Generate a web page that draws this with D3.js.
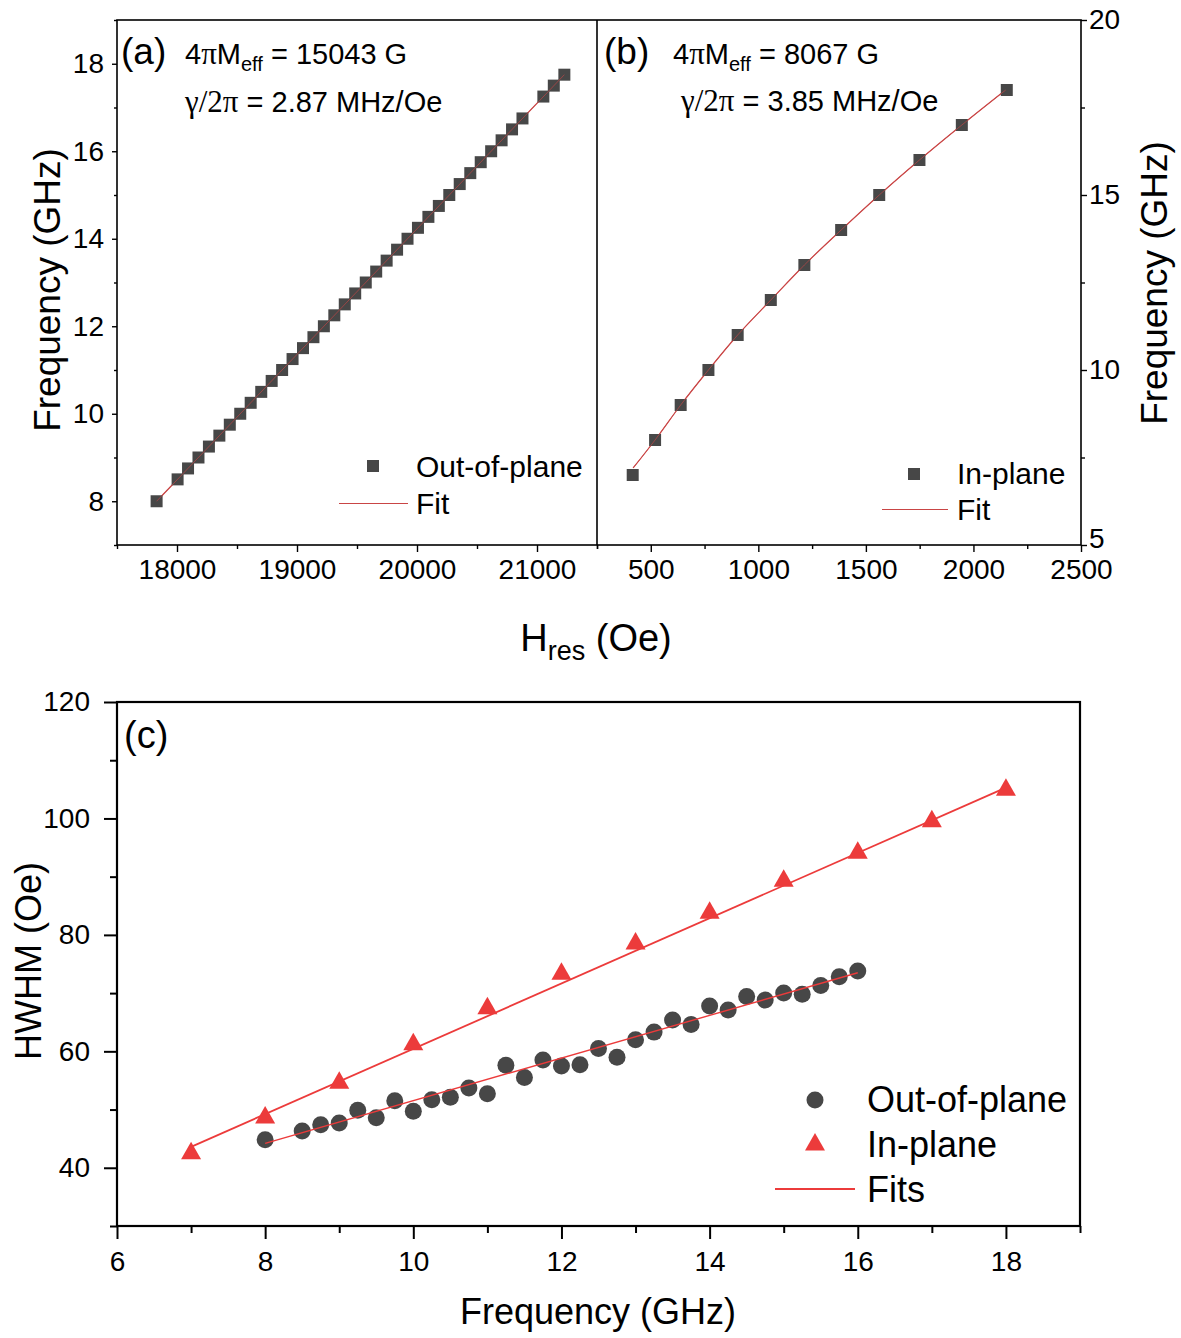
<!DOCTYPE html>
<html><head><meta charset="utf-8">
<script src="https://cdn.jsdelivr.net/npm/d3@7"></script>
<style>body{margin:0;background:#fff}</style>
</head><body>
<svg id="chart" width="1181" height="1338"></svg>
<script>
// ---------- Data: panel (a) out-of-plane ----------
const oopFreq = [8, 8.5, 8.75, 9, 9.25, 9.5, 9.75, 10, 10.25, 10.5, 10.75, 11, 11.25, 11.5, 11.75, 12, 12.25, 12.5, 12.75, 13, 13.25, 13.5, 13.75, 14, 14.25, 14.5, 14.75, 15, 15.25, 15.5, 15.75, 16, 16.25, 16.5, 16.75, 17.25, 17.5, 17.75];
const oopHres = [17830, 18005, 18092, 18179, 18266, 18353, 18440, 18527, 18614, 18702, 18789, 18876, 18963, 19050, 19137, 19224, 19311, 19398, 19485, 19573, 19660, 19747, 19834, 19921, 20008, 20095, 20182, 20269, 20356, 20444, 20531, 20618, 20705, 20792, 20879, 21053, 21140, 21228];
const oopFitH = [17830, 21228];
const oopFitF = [8.0, 17.75];
// ---------- Data: panel (b) in-plane ----------
const ipFreq = [7, 8, 9, 10, 11, 12, 13, 14, 15, 16, 17, 18];
const ipHres = [416, 520, 639, 768, 904, 1058, 1214, 1385, 1562, 1749, 1946, 2155];
const ipFitH = [418, 520, 639, 768, 904, 1058, 1214, 1385, 1562, 1749, 1946, 2150];
const ipFitF = [7.2, 8.0, 9.0, 10.0, 11.0, 12.0, 13.0, 14.0, 15.0, 16.0, 17.0, 18.0];
// ---------- Data: panel (c) linewidth ----------
const hwOopFreq = [8, 8.5, 8.75, 9, 9.25, 9.5, 9.75, 10, 10.25, 10.5, 10.75, 11, 11.25, 11.5, 11.75, 12, 12.25, 12.5, 12.75, 13, 13.25, 13.5, 13.75, 14, 14.25, 14.5, 14.75, 15, 15.25, 15.5, 15.75, 16];
const hwOop = [44.8, 46.3, 47.4, 47.7, 49.9, 48.6, 51.5, 49.7, 51.7, 52.1, 53.7, 52.7, 57.6, 55.5, 58.5, 57.5, 57.7, 60.5, 59.0, 62.0, 63.3, 65.4, 64.6, 67.8, 67.1, 69.4, 68.8, 70.0, 69.8, 71.3, 72.8, 73.8];
const hwIpFreq = [7, 8, 9, 10, 11, 12, 13, 14, 15, 16, 17, 18];
const hwIp = [42.6, 48.7, 54.7, 61.3, 67.5, 73.4, 78.6, 83.9, 89.4, 94.2, 99.6, 105.0];
const hwOopFitF = [8, 16];
const hwOopFitV = [44.2, 73.5];
const hwIpFitF = [7, 18];
const hwIpFitV = [43.6, 105.3];
// ---------- Tick values ----------
const aXMajor = [18000, 19000, 20000, 21000], aXMinor = [17500, 18500, 19500, 20500, 21500];
const aYMajor = [8, 10, 12, 14, 16, 18], aYMinor = [7, 9, 11, 13, 15, 17, 19];
const bXMajor = [500, 1000, 1500, 2000, 2500], bXMinor = [250, 750, 1250, 1750, 2250];
const bYMajor = [5, 10, 15, 20], bYMinor = [7.5, 12.5, 17.5];
const cXMajor = [6, 8, 10, 12, 14, 16, 18], cXMinor = [7, 9, 11, 13, 15, 17, 19];
const cYMajor = [40, 60, 80, 100, 120], cYMinor = [30, 50, 70, 90, 110];

const SANS = "'Liberation Sans', Arial, Helvetica, sans-serif";
const SERIF = "'Liberation Serif', 'Times New Roman', serif";
const GRAY = "#474747", RED = "#ec3b3b", FITDARK = "#c94545";

const svg = d3.select("#chart");
svg.append("rect").attr("width", 1181).attr("height", 1338).attr("fill", "#fff");

// geometry
const AB = {left: 117, mid: 597, right: 1081, top: 20, bottom: 545};
const C = {left: 117, right: 1080, top: 702, bottom: 1226};

const xA = d3.scaleLinear().domain([17500, 21500]).range([AB.left, AB.mid]);
const yA = d3.scaleLinear().domain([7, 19]).range([AB.bottom, AB.top]);
const xB = d3.scaleLinear().domain([250, 2500]).range([AB.mid, AB.right]);
const yB = d3.scaleLinear().domain([5, 20]).range([AB.bottom, AB.top]);
const xC = d3.scaleLinear().domain([6, 19]).range([C.left, C.right]);
const yC = d3.scaleLinear().domain([30, 120]).range([C.bottom, C.top]);

function drawAxis(gen, scale, major, minor, tf, pos, majLen, minLen, pad, sw, fs) {
  const gMin = svg.append("g").attr("transform", pos)
    .call(gen(scale).tickValues(minor).tickSize(minLen).tickFormat(""));
  const gMaj = svg.append("g").attr("transform", pos)
    .call(gen(scale).tickValues(major).tickSize(majLen).tickPadding(pad).tickFormat(tf));
  [gMin, gMaj].forEach(g => {
    g.select(".domain").remove();
    g.selectAll("line").attr("stroke", "#000").attr("stroke-width", sw);
    g.selectAll("text").attr("font-family", SANS).attr("font-size", fs).attr("fill", "#000");
  });
  return gMaj;
}
const fmt = d3.format("d");

// ---- Panel (a)/(b) axes ----
drawAxis(d3.axisBottom, xA, aXMajor, aXMinor, fmt, `translate(0,${AB.bottom})`, 7, 4, 7, 1.4, 28);
drawAxis(d3.axisLeft, yA, aYMajor, aYMinor, fmt, `translate(${AB.left},0)`, 5, 3, 8, 1.4, 28);
drawAxis(d3.axisBottom, xB, bXMajor, bXMinor, fmt, `translate(0,${AB.bottom})`, 7, 4, 7, 1.4, 28);
const gBY = drawAxis(d3.axisRight, yB, bYMajor, bYMinor, fmt, `translate(${AB.right},0)`, 6, 4, 2, 1.4, 28);
// lift the bottom "5" label slightly so it does not collide with "2500"
gBY.selectAll(".tick").filter(d => d === 5).select("text").attr("dy", "0.1em");
// frames
svg.append("rect").attr("x", AB.left).attr("y", AB.top).attr("width", AB.right - AB.left).attr("height", AB.bottom - AB.top)
  .attr("fill", "none").attr("stroke", "#000").attr("stroke-width", 1.6);
svg.append("line").attr("x1", AB.mid).attr("x2", AB.mid).attr("y1", AB.top).attr("y2", AB.bottom)
  .attr("stroke", "#000").attr("stroke-width", 1.6);

// ---- Panel (a) marks ----
const gA = svg.append("g");
const fitLineA = d3.line().x(d => xA(d[0])).y(d => yA(d[1]));
gA.append("path").datum(oopFitH.map((h, i) => [h, oopFitF[i]]))
  .attr("d", fitLineA).attr("fill", "none").attr("stroke", FITDARK).attr("stroke-width", 1.2);
const symSq = d3.symbol().type(d3.symbolSquare).size(144);
gA.selectAll(".sqA").data(oopFreq.map((f, i) => [oopHres[i], f])).join("path")
  .attr("d", symSq).attr("transform", d => `translate(${xA(d[0])},${yA(d[1])})`).attr("fill", GRAY);
gA.append("path").datum(oopFitH.map((h, i) => [h, oopFitF[i]]))
  .attr("d", fitLineA).attr("fill", "none").attr("stroke", FITDARK).attr("stroke-width", 0.8).attr("opacity", 0.8);

// ---- Panel (b) marks ----
const gB = svg.append("g");
const fitLineB = d3.line().curve(d3.curveMonotoneX).x(d => xB(d[0])).y(d => yB(d[1]));
gB.append("path").datum(ipFitH.map((h, i) => [h, ipFitF[i]]))
  .attr("d", fitLineB).attr("fill", "none").attr("stroke", FITDARK).attr("stroke-width", 1.2);
gB.selectAll(".sqB").data(ipFreq.map((f, i) => [ipHres[i], f])).join("path")
  .attr("d", symSq).attr("transform", d => `translate(${xB(d[0])},${yB(d[1])})`).attr("fill", GRAY);
gB.append("path").datum(ipFitH.map((h, i) => [h, ipFitF[i]]))
  .attr("d", fitLineB).attr("fill", "none").attr("stroke", FITDARK).attr("stroke-width", 0.8).attr("opacity", 0.8);

// ---- annotations ----
function label(x, y, txt, fs) {
  return svg.append("text").attr("x", x).attr("y", y).attr("font-family", SANS)
    .attr("font-size", fs).attr("fill", "#000").text(txt);
}
label(121, 64, "(a)", 37);
label(604, 64, "(b)", 37);
function meff(x, y, val) {
  const t = svg.append("text").attr("x", x).attr("y", y).attr("font-family", SANS).attr("font-size", 29).attr("fill", "#000");
  t.append("tspan").text("4");
  t.append("tspan").attr("font-family", SERIF).attr("font-size", 31).text("π");
  t.append("tspan").text("M");
  t.append("tspan").attr("font-size", 20).attr("dy", 7).text("eff");
  t.append("tspan").attr("dy", -7).text(" = " + val + " G");
}
function gam(x, y, val) {
  const t = svg.append("text").attr("x", x).attr("y", y).attr("font-family", SANS).attr("font-size", 29).attr("fill", "#000");
  t.append("tspan").attr("font-family", SERIF).attr("font-size", 31).text("γ/2π");
  t.append("tspan").text(" = " + val + " MHz/Oe");
}
meff(185, 64, "15043");
gam(185, 112, "2.87");
meff(673, 64, "8067");
gam(681, 111, "3.85");

// legends (a),(b)
gA.append("path").attr("d", symSq).attr("transform", "translate(373,466)").attr("fill", GRAY);
label(416, 477, "Out-of-plane", 30);
svg.append("line").attr("x1", 339).attr("x2", 408).attr("y1", 503.5).attr("y2", 503.5).attr("stroke", FITDARK).attr("stroke-width", 1.2);
label(416, 514, "Fit", 30);
gB.append("path").attr("d", symSq).attr("transform", "translate(914,474)").attr("fill", GRAY);
label(957, 484, "In-plane", 30);
svg.append("line").attr("x1", 882).attr("x2", 948).attr("y1", 509.5).attr("y2", 509.5).attr("stroke", FITDARK).attr("stroke-width", 1.2);
label(957, 520, "Fit", 30);

// axis titles (a)/(b)
svg.append("text").attr("transform", "translate(60,290) rotate(-90)").attr("text-anchor", "middle")
  .attr("font-family", SANS).attr("font-size", 37).text("Frequency (GHz)");
svg.append("text").attr("transform", "translate(1167,283) rotate(-90)").attr("text-anchor", "middle")
  .attr("font-family", SANS).attr("font-size", 37).text("Frequency (GHz)");
const ht = svg.append("text").attr("x", 596).attr("y", 651).attr("text-anchor", "middle")
  .attr("font-family", SANS).attr("font-size", 38);
ht.append("tspan").text("H");
ht.append("tspan").attr("font-size", 27).attr("dy", 9).text("res");
ht.append("tspan").attr("dy", -9).text(" (Oe)");

// ---- Panel (c) ----
drawAxis(d3.axisBottom, xC, cXMajor, cXMinor, fmt, `translate(0,${C.bottom})`, 13, 7, 12, 2, 28);
drawAxis(d3.axisLeft, yC, cYMajor, cYMinor, fmt, `translate(${C.left},0)`, 13, 7, 14, 2, 28);
svg.append("rect").attr("x", C.left).attr("y", C.top).attr("width", C.right - C.left).attr("height", C.bottom - C.top)
  .attr("fill", "none").attr("stroke", "#000").attr("stroke-width", 2.2);

const gC = svg.append("g");
const lineC = d3.line().x(d => xC(d[0])).y(d => yC(d[1]));
gC.append("path").datum(hwIpFitF.map((f, i) => [f, hwIpFitV[i]])).attr("d", lineC)
  .attr("fill", "none").attr("stroke", RED).attr("stroke-width", 1.8);
gC.selectAll(".cir").data(hwOopFreq.map((f, i) => [f, hwOop[i]])).join("circle")
  .attr("cx", d => xC(d[0])).attr("cy", d => yC(d[1])).attr("r", 8.5).attr("fill", GRAY);
gC.append("path").datum(hwOopFitF.map((f, i) => [f, hwOopFitV[i]])).attr("d", lineC)
  .attr("fill", "none").attr("stroke", RED).attr("stroke-width", 1.4);
const tri = "M0,-11 L10,6.5 L-10,6.5 Z";
gC.selectAll(".tri").data(hwIpFreq.map((f, i) => [f, hwIp[i]])).join("path")
  .attr("d", tri).attr("transform", d => `translate(${xC(d[0])},${yC(d[1])})`).attr("fill", RED);

label(124, 748, "(c)", 38);
// legend (c)
svg.append("circle").attr("cx", 815).attr("cy", 1100).attr("r", 8.5).attr("fill", GRAY);
label(867, 1112, "Out-of-plane", 36);
svg.append("path").attr("d", tri).attr("transform", "translate(815,1144)").attr("fill", RED);
label(867, 1157, "In-plane", 36);
svg.append("line").attr("x1", 775).attr("x2", 855).attr("y1", 1189).attr("y2", 1189).attr("stroke", RED).attr("stroke-width", 1.8);
label(867, 1202, "Fits", 36);

svg.append("text").attr("x", 598).attr("y", 1324).attr("text-anchor", "middle")
  .attr("font-family", SANS).attr("font-size", 36).text("Frequency (GHz)");
svg.append("text").attr("transform", "translate(41,961) rotate(-90)").attr("text-anchor", "middle")
  .attr("font-family", SANS).attr("font-size", 36).text("HWHM (Oe)");
</script>
</body></html>
